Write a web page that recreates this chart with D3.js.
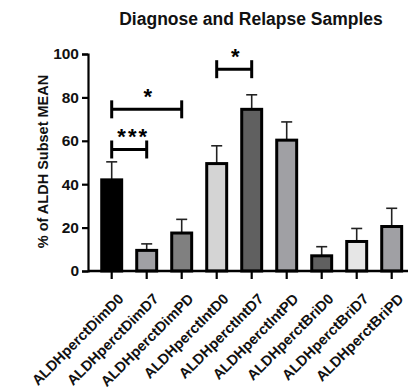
<!DOCTYPE html>
<html>
<head>
<meta charset="utf-8">
<script src="https://cdn.jsdelivr.net/npm/d3@7"></script>
<style>
  html, body { margin: 0; padding: 0; background: #fff; }
  svg { display: block; font-family: "Liberation Sans", Arial, sans-serif; }
</style>
</head>
<body>
<svg id="chart" width="408" height="391"></svg>
<script>
// Sample groups (ALDH subset percentages at diagnosis, day 7 and progression)
const categories = [
  "ALDHperctDimD0", "ALDHperctDimD7", "ALDHperctDimPD",
  "ALDHperctIntD0", "ALDHperctIntD7", "ALDHperctIntPD",
  "ALDHperctBriD0", "ALDHperctBriD7", "ALDHperctBriPD"
];
const means = [42, 9.5, 17.5, 49.5, 74.5, 60.3, 7, 13.6, 20.5];
const errors = [8.3, 3, 6.3, 8.2, 6.7, 8.4, 4.2, 6, 8.4];
const fills = ["#000000", "#a0a0a4", "#808080", "#d4d4d4", "#606060",
               "#a0a0a4", "#606060", "#e6e6e6", "#a0a0a4"];
const yTicks = [0, 20, 40, 60, 80, 100];

// Significance comparisons between group indices
const comparisons = [
  { from: 0, to: 1, level: 56, label: "***" },
  { from: 0, to: 2, level: 74.5, label: "*" },
  { from: 3, to: 4, level: 93, label: "*" }
];

const FONT = "'Liberation Sans', Arial, sans-serif";
const svg = d3.select("#chart");

const y = d3.scaleLinear().domain([0, 100]).range([271, 54]);
const x = d3.scaleBand()
  .domain(categories)
  .range([94.2, 409.2])
  .paddingInner(0.43)
  .paddingOuter(0.215);
const cx = d => x(d) + x.bandwidth() / 2;

const data = categories.map((c, i) => ({ cat: c, mean: means[i], err: errors[i], fill: fills[i] }));

// Title
svg.append("text")
  .attr("x", 251)
  .attr("y", 25)
  .attr("text-anchor", "middle")
  .attr("font-family", FONT)
  .attr("font-weight", "bold")
  .attr("font-size", 17.5)
  .attr("fill", "#111")
  .text("Diagnose and Relapse Samples");

// Y axis title
svg.append("text")
  .attr("transform", `translate(48,${(y(0) + y(100)) / 2 - 1}) rotate(-90)`)
  .attr("text-anchor", "middle")
  .attr("font-family", FONT)
  .attr("font-weight", "bold")
  .attr("font-size", 14.5)
  .attr("fill", "#111")
  .text("% of ALDH Subset MEAN");

// Error bars (upper half only)
const eb = svg.append("g").attr("stroke", "#222").attr("stroke-width", 1.6);
eb.selectAll("line.v").data(data).join("line")
  .attr("x1", d => cx(d.cat)).attr("x2", d => cx(d.cat))
  .attr("y1", d => y(d.mean)).attr("y2", d => y(d.mean + d.err));
eb.selectAll("line.c").data(data).join("line")
  .attr("x1", d => cx(d.cat) - 5.5).attr("x2", d => cx(d.cat) + 5.5)
  .attr("y1", d => y(d.mean + d.err)).attr("y2", d => y(d.mean + d.err));

// Bars
svg.append("g").selectAll("rect").data(data).join("rect")
  .attr("x", d => x(d.cat))
  .attr("width", x.bandwidth())
  .attr("y", d => y(d.mean))
  .attr("height", d => y(0) - y(d.mean))
  .attr("fill", d => d.fill)
  .attr("stroke", "#000")
  .attr("stroke-width", 3);

// Y axis
const yAxis = svg.append("g")
  .attr("transform", "translate(88,0)")
  .call(d3.axisLeft(y).tickValues(yTicks).tickSize(6).tickPadding(3));
yAxis.select(".domain").attr("stroke-width", 2.2);
yAxis.selectAll(".tick line").attr("stroke-width", 2.2);
yAxis.selectAll("text")
  .attr("font-family", FONT)
  .attr("font-weight", "bold")
  .attr("font-size", 15.5)
  .attr("fill", "#111");

// X axis
const xAxis = svg.append("g")
  .attr("transform", `translate(0,${y(0)})`)
  .call(d3.axisBottom(x).tickSize(8).tickSizeOuter(0));
xAxis.select(".domain").attr("d", "M88,0H408").attr("stroke-width", 2.4);
xAxis.selectAll(".tick line").attr("stroke-width", 2.2);
xAxis.selectAll("text")
  .attr("font-family", FONT)
  .attr("font-weight", "bold")
  .attr("font-size", 14.6)
  .attr("fill", "#111")
  .attr("text-anchor", "end")
  .attr("dx", 0)
  .attr("dy", 0)
  .attr("transform", "translate(5,21) rotate(-45)");

// Significance brackets
const br = svg.append("g");
comparisons.forEach(c => {
  const x1 = cx(categories[c.from]);
  const x2 = cx(categories[c.to]);
  const yl = y(c.level);
  const g = br.append("g").attr("stroke", "#000").attr("stroke-width", 3);
  g.append("line").attr("x1", x1).attr("x2", x2).attr("y1", yl).attr("y2", yl);
  g.append("line").attr("x1", x1).attr("x2", x1).attr("y1", yl - 9).attr("y2", yl + 9);
  g.append("line").attr("x1", x2).attr("x2", x2).attr("y1", yl - 9).attr("y2", yl + 9);
  br.append("text")
    .attr("x", (x1 + x2) / 2 + (c.label.length > 1 ? 4 : 1))
    .attr("y", yl - 5)
    .attr("text-anchor", "middle")
    .attr("font-family", FONT)
    .attr("font-weight", "bold")
    .attr("font-size", 22)
    .attr("letter-spacing", c.label.length > 1 ? 2 : 0)
    .text(c.label);
});
</script>
</body>
</html>
